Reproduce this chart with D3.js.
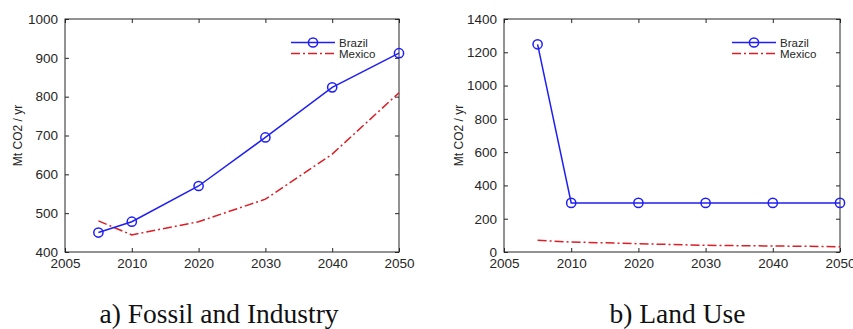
<!DOCTYPE html>
<html>
<head>
<meta charset="utf-8">
<script src="https://cdn.jsdelivr.net/npm/d3@7"></script>
<style>
  html, body { margin: 0; padding: 0; background: #fff; }
  svg { display: block; }
  .sans { font-family: "Liberation Sans", Arial, Helvetica, sans-serif; }
  .serif { font-family: "Liberation Serif", "Times New Roman", Times, "DejaVu Serif", serif; }
</style>
</head>
<body>
<svg id="fig" width="853" height="329"></svg>
<script>
// Tick slots along the period axis and their labels
const tickSlots = [0, 1, 2, 3, 4, 5];
const tickLabels = ["2005", "2010", "2020", "2030", "2040", "2050"];
// Where each reported value sits on the period axis
const pointSlots = [0.5, 1, 2, 3, 4, 5];

// Fossil and industry emissions (Mt CO2 / yr)
const fossilBrazil = [450, 478, 570, 695, 824, 912];
const fossilMexico = [480, 444, 478, 536, 652, 810];
const fossilTicks = [400, 500, 600, 700, 800, 900, 1000];

// Land-use emissions (Mt CO2 / yr)
const landBrazil = [1248, 295, 295, 295, 295, 295];
const landMexico = [70, 60, 50, 40, 36, 32];
const landTicks = [0, 200, 400, 600, 800, 1000, 1200, 1400];

const seriesNames = ["Brazil", "Mexico"];
const captions = ["a) Fossil and Industry", "b) Land Use"];

const BLUE = "#1f1ff5";
const RED = "#dc1f26";
const AXIS = "#262626";

const svg = d3.select("#fig");

function panel(opts) {
  const { left, right, top, bottom, yDomain, yTicks, brazil, mexico, legendX, labelX, caption, captionX } = opts;
  const x = d3.scaleLinear().domain([0, 5]).range([left, right]);
  const y = d3.scaleLinear().domain(yDomain).range([bottom, top]);
  const g = svg.append("g");
  const tickLen = 4;

  // Inward ticks on all four sides, labels on left and bottom
  const xAxisB = d3.axisBottom(x).tickValues(tickSlots).tickFormat((d, i) => tickLabels[i])
    .tickSizeInner(-tickLen).tickSizeOuter(0).tickPadding(6);
  const xAxisT = d3.axisTop(x).tickValues(tickSlots).tickFormat("")
    .tickSizeInner(-tickLen).tickSizeOuter(0);
  const yAxisL = d3.axisLeft(y).tickValues(yTicks).tickFormat(d3.format("d"))
    .tickSizeInner(-tickLen).tickSizeOuter(0).tickPadding(7);
  const yAxisR = d3.axisRight(y).tickValues(yTicks).tickFormat("")
    .tickSizeInner(-tickLen).tickSizeOuter(0);

  const axes = [
    g.append("g").attr("transform", `translate(0,${bottom})`).call(xAxisB),
    g.append("g").attr("transform", `translate(0,${top})`).call(xAxisT),
    g.append("g").attr("transform", `translate(${left},0)`).call(yAxisL),
    g.append("g").attr("transform", `translate(${right},0)`).call(yAxisR)
  ];
  axes.forEach(a => {
    a.attr("font-family", null).attr("font-size", null);
    a.select(".domain").remove();
    a.selectAll(".tick line").attr("stroke", AXIS).attr("stroke-width", 1);
    a.selectAll(".tick text").attr("fill", AXIS).attr("class", "sans")
      .style("font-size", "13.5px");
  });

  // Frame
  g.append("rect")
    .attr("x", left).attr("y", top)
    .attr("width", right - left).attr("height", bottom - top)
    .attr("fill", "none").attr("stroke", AXIS).attr("stroke-width", 1);

  // Y label
  g.append("text")
    .attr("class", "sans")
    .attr("transform", `translate(${labelX},${(top + bottom) / 2}) rotate(-90)`)
    .attr("text-anchor", "middle")
    .attr("fill", AXIS)
    .style("font-size", "12px")
    .text("Mt CO2 / yr");

  const line = d3.line().x((d, i) => x(pointSlots[i])).y(d => y(d));

  // Mexico (dash-dot)
  g.append("path").datum(mexico)
    .attr("d", line).attr("fill", "none")
    .attr("stroke", RED).attr("stroke-width", 1.5)
    .attr("stroke-dasharray", "9,3,2,3");

  // Brazil (solid with circle markers)
  g.append("path").datum(brazil)
    .attr("d", line).attr("fill", "none")
    .attr("stroke", BLUE).attr("stroke-width", 1.5);
  g.selectAll("circle.pt").data(brazil).enter().append("circle")
    .attr("class", "pt")
    .attr("cx", (d, i) => x(pointSlots[i])).attr("cy", d => y(d))
    .attr("r", 4.6).attr("fill", "none")
    .attr("stroke", BLUE).attr("stroke-width", 1.5);

  // Legend
  const lg = g.append("g").attr("transform", `translate(${legendX},0)`);
  const rows = [42.5, 53.5];
  lg.append("line").attr("x1", 0).attr("x2", 44).attr("y1", rows[0]).attr("y2", rows[0])
    .attr("stroke", BLUE).attr("stroke-width", 1.5);
  lg.append("circle").attr("cx", 22).attr("cy", rows[0]).attr("r", 4.6)
    .attr("fill", "none").attr("stroke", BLUE).attr("stroke-width", 1.5);
  lg.append("line").attr("x1", 0).attr("x2", 44).attr("y1", rows[1]).attr("y2", rows[1])
    .attr("stroke", RED).attr("stroke-width", 1.5).attr("stroke-dasharray", "9,3,2,3");
  seriesNames.forEach((name, i) => {
    lg.append("text").attr("class", "sans").attr("x", 48).attr("y", rows[i] + 4)
      .attr("fill", AXIS)
      .style("font-size", "11.5px")
      .text(name);
  });

  // Caption
  svg.append("text")
    .attr("class", "serif")
    .attr("x", captionX).attr("y", 323)
    .attr("text-anchor", "middle")
    .attr("fill", "#111")
    .style("font-size", "27.5px")
    .text(caption);
}

panel({
  left: 65, right: 399, top: 19, bottom: 252,
  yDomain: [400, 1000], yTicks: fossilTicks,
  brazil: fossilBrazil, mexico: fossilMexico,
  legendX: 291, labelX: 22, caption: captions[0], captionX: 219
});

panel({
  left: 504, right: 840, top: 19, bottom: 252,
  yDomain: [0, 1400], yTicks: landTicks,
  brazil: landBrazil, mexico: landMexico,
  legendX: 732, labelX: 463, caption: captions[1], captionX: 677.5
});
</script>
</body>
</html>
